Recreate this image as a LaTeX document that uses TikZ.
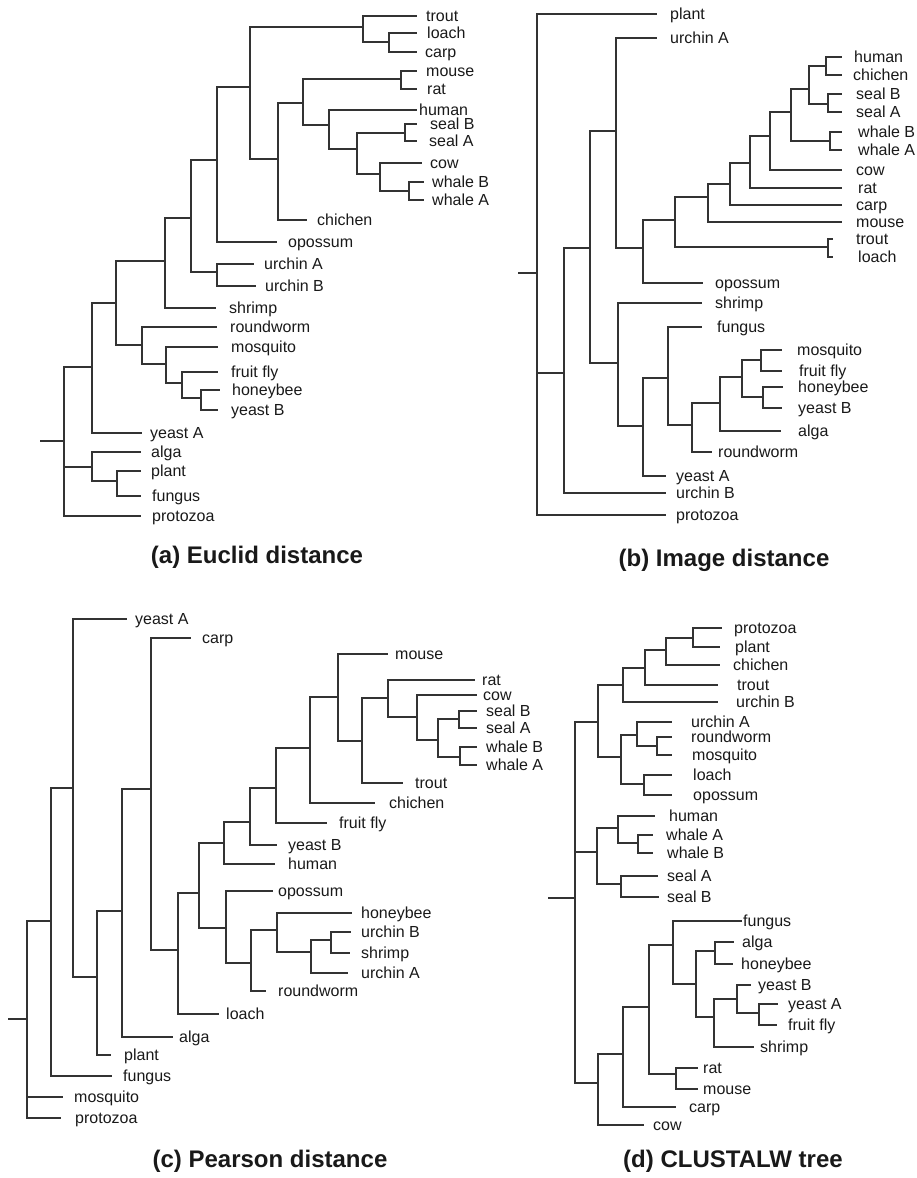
\documentclass[tikz,border=0pt]{standalone}
\usepackage{fontspec}
\setmainfont{Liberation Sans}
\newcommand\mkleaf[5]{\coordinate (#1) at (#2,#3); \node[lbl] (#1L) at (#4,#3) {#5};}
\begin{document}
\begin{tikzpicture}[x=1pt,y=-1pt,
 lbl/.style={anchor=west,inner sep=0pt,text height=11.5pt,text depth=0pt,font=\fontsize{16}{18}\selectfont,text=black!90},
 br/.style={line width=1.2pt,draw=black!80},
 ttl/.style={font=\bfseries\fontsize{24}{28}\selectfont,text=black!90,inner sep=0pt}]
\useasboundingbox (0,0) rectangle (916,1178);
%%%%%%%%%%%%%%%% (a)
\mkleaf{aTrout}{417}{16}{426}{trout}
\mkleaf{aLoach}{417}{33}{427}{loach}
\mkleaf{aCarp}{417}{52}{425}{carp}
\mkleaf{aMouse}{417}{71}{426}{mouse}
\mkleaf{aRat}{417}{89}{427}{rat}
\mkleaf{aHuman}{417}{110}{419}{human}
\mkleaf{aSealB}{417}{124}{430}{seal B}
\mkleaf{aSealA}{417}{141}{429}{seal A}
\mkleaf{aCow}{422}{163}{430}{cow}
\mkleaf{aWhaleB}{424}{182}{432}{whale B}
\mkleaf{aWhaleA}{424}{200}{432}{whale A}
\mkleaf{aChichen}{307}{220}{317}{chichen}
\mkleaf{aOpossum}{277}{242}{288}{opossum}
\mkleaf{aUrchinA}{254}{264}{264}{urchin A}
\mkleaf{aUrchinB}{256}{286}{265}{urchin B}
\mkleaf{aShrimp}{216}{308}{229}{shrimp}
\mkleaf{aRoundworm}{217}{327}{230}{roundworm}
\mkleaf{aMosquito}{218}{347}{231}{mosquito}
\mkleaf{aFruitfly}{218}{372}{231}{fruit fly}
\mkleaf{aHoneybee}{220}{390}{232}{honeybee}
\mkleaf{aYeastB}{218}{410}{231}{yeast B}
\mkleaf{aYeastA}{142}{433}{150}{yeast A}
\mkleaf{aAlga}{141}{452}{151}{alga}
\mkleaf{aPlant}{141}{471}{151}{plant}
\mkleaf{aFungus}{141}{496}{152}{fungus}
\mkleaf{aProtozoa}{141}{516}{152}{protozoa}
\coordinate (a1) at (389,42);
\coordinate (a2) at (363,27);
\coordinate (a3) at (401,79);
\coordinate (a4) at (405,133);
\coordinate (a5) at (409,191);
\coordinate (a6) at (380,174);
\coordinate (a7) at (357,149);
\coordinate (a8) at (329,125);
\coordinate (a9) at (303,103);
\coordinate (a10) at (278,159);
\coordinate (a11) at (250,87);
\coordinate (a12) at (217,160);
\coordinate (a13) at (217,272);
\coordinate (a14) at (191,218);
\coordinate (a15) at (165,261);
\coordinate (a16) at (201,398);
\coordinate (a17) at (182,383);
\coordinate (a18) at (166,364);
\coordinate (a19) at (142,345);
\coordinate (a20) at (116,303);
\coordinate (a21) at (92,367);
\coordinate (a22) at (117,481);
\coordinate (a23) at (92,467);
\coordinate (aRoot) at (64,441);
\coordinate (aStub) at (40,441);
\foreach \p/\c in {a1/aLoach,a1/aCarp,a2/aTrout,a2/a1,a3/aMouse,a3/aRat,a4/aSealB,a4/aSealA,
  a5/aWhaleB,a5/aWhaleA,a6/aCow,a6/a5,a7/a4,a7/a6,a8/aHuman,a8/a7,a9/a3,a9/a8,a10/a9,a10/aChichen,
  a11/a2,a11/a10,a12/a11,a12/aOpossum,a13/aUrchinA,a13/aUrchinB,a14/a12,a14/a13,a15/a14,a15/aShrimp,
  a16/aHoneybee,a16/aYeastB,a17/aFruitfly,a17/a16,a18/aMosquito,a18/a17,a19/aRoundworm,a19/a18,
  a20/a15,a20/a19,a21/a20,a21/aYeastA,a22/aPlant,a22/aFungus,a23/aAlga,a23/a22,
  aRoot/a21,aRoot/a23,aRoot/aProtozoa}
  \draw[br] (\p) |- (\c);
\draw[br] (aStub) -- (aRoot);
\node[ttl] (titleA) at (257,557) {(a) Euclid distance};
%%%%%%%%%%%%%%%% (b)
\mkleaf{bPlant}{657}{14}{670}{plant}
\mkleaf{bUrchinA}{657}{38}{670}{urchin A}
\mkleaf{bHuman}{842}{57}{854}{human}
\mkleaf{bChichen}{842}{75}{853}{chichen}
\mkleaf{bSealB}{842}{94}{856}{seal B}
\mkleaf{bSealA}{842}{112}{856}{seal A}
\mkleaf{bWhaleB}{842}{132}{858}{whale B}
\mkleaf{bWhaleA}{842}{150}{858}{whale A}
\mkleaf{bCow}{842}{170}{856}{cow}
\mkleaf{bRat}{842}{188}{858}{rat}
\mkleaf{bCarp}{842}{205}{856}{carp}
\mkleaf{bMouse}{842}{222}{856}{mouse}
\mkleaf{bTrout}{833}{239}{856}{trout}
\mkleaf{bLoach}{833}{257}{858}{loach}
\mkleaf{bOpossum}{703}{283}{715}{opossum}
\mkleaf{bShrimp}{702}{303}{715}{shrimp}
\mkleaf{bFungus}{702}{327}{717}{fungus}
\mkleaf{bMosquito}{782}{350}{797}{mosquito}
\mkleaf{bFruitfly}{782}{371}{799}{fruit fly}
\mkleaf{bHoneybee}{783}{387}{798}{honeybee}
\mkleaf{bYeastB}{782}{408}{798}{yeast B}
\mkleaf{bAlga}{781}{431}{798}{alga}
\mkleaf{bRoundworm}{712}{452}{718}{roundworm}
\mkleaf{bYeastA}{666}{476}{676}{yeast A}
\mkleaf{bUrchinB}{666}{493}{676}{urchin B}
\mkleaf{bProtozoa}{666}{515}{676}{protozoa}
\coordinate (b1) at (826,66);
\coordinate (b2) at (828,104);
\coordinate (b3) at (809,89);
\coordinate (b4) at (830,141);
\coordinate (b5) at (791,112);
\coordinate (b6) at (770,136);
\coordinate (b7) at (750,163);
\coordinate (b8) at (730,184);
\coordinate (b9) at (708,197);
\coordinate (b10) at (828,247);
\coordinate (b11) at (675,220);
\coordinate (b12) at (643,248);
\coordinate (b13) at (616,131);
\coordinate (b14) at (761,360);
\coordinate (b15) at (763,397);
\coordinate (b16) at (742,377);
\coordinate (b17) at (720,403);
\coordinate (b18) at (692,425);
\coordinate (b19) at (668,378);
\coordinate (b20) at (643,426);
\coordinate (b21) at (618,363);
\coordinate (b22) at (590,248);
\coordinate (b23) at (564,373);
\coordinate (bRoot) at (537,273);
\coordinate (bStub) at (518,273);
\foreach \p/\c in {b1/bHuman,b1/bChichen,b2/bSealB,b2/bSealA,b3/b1,b3/b2,b4/bWhaleB,b4/bWhaleA,
  b5/b3,b5/b4,b6/b5,b6/bCow,b7/b6,b7/bRat,b8/b7,b8/bCarp,b9/b8,b9/bMouse,b10/bTrout,b10/bLoach,
  b11/b9,b11/b10,b12/b11,b12/bOpossum,b13/bUrchinA,b13/b12,b14/bMosquito,b14/bFruitfly,
  b15/bHoneybee,b15/bYeastB,b16/b14,b16/b15,b17/b16,b17/bAlga,b18/b17,b18/bRoundworm,
  b19/bFungus,b19/b18,b20/b19,b20/bYeastA,b21/bShrimp,b21/b20,b22/b13,b22/b21,b23/b22,b23/bUrchinB,
  bRoot/bPlant,bRoot/b23,bRoot/bProtozoa}
  \draw[br] (\p) |- (\c);
\draw[br] (bStub) -- (bRoot);
\node[ttl] (titleB) at (724,560) {(b) Image distance};
%%%%%%%%%%%%%%%% (c)
\mkleaf{cYeastA}{127}{619}{135}{yeast A}
\mkleaf{cCarp}{191}{638}{202}{carp}
\mkleaf{cMouse}{388}{654}{395}{mouse}
\mkleaf{cRat}{475}{680}{482}{rat}
\mkleaf{cCow}{477}{695}{483}{cow}
\mkleaf{cSealB}{477}{711}{486}{seal B}
\mkleaf{cSealA}{477}{728}{486}{seal A}
\mkleaf{cWhaleB}{477}{747}{486}{whale B}
\mkleaf{cWhaleA}{477}{765}{486}{whale A}
\mkleaf{cTrout}{403}{783}{415}{trout}
\mkleaf{cChichen}{375}{803}{389}{chichen}
\mkleaf{cFruitfly}{327}{823}{339}{fruit fly}
\mkleaf{cYeastB}{277}{845}{288}{yeast B}
\mkleaf{cHuman}{275}{864}{288}{human}
\mkleaf{cOpossum}{273}{891}{278}{opossum}
\mkleaf{cHoneybee}{352}{913}{361}{honeybee}
\mkleaf{cUrchinB}{351}{932}{361}{urchin B}
\mkleaf{cShrimp}{350}{953}{361}{shrimp}
\mkleaf{cUrchinA}{348}{973}{361}{urchin A}
\mkleaf{cRoundworm}{266}{991}{278}{roundworm}
\mkleaf{cLoach}{219}{1014}{226}{loach}
\mkleaf{cAlga}{173}{1037}{179}{alga}
\mkleaf{cPlant}{111}{1055}{124}{plant}
\mkleaf{cFungus}{112}{1076}{123}{fungus}
\mkleaf{cMosquito}{63}{1097}{74}{mosquito}
\mkleaf{cProtozoa}{61}{1118}{75}{protozoa}
\coordinate (c1) at (459,719);
\coordinate (c2) at (460,757);
\coordinate (c3) at (438,740);
\coordinate (c4) at (417,717);
\coordinate (c5) at (388,698);
\coordinate (c6) at (362,741);
\coordinate (c7) at (338,697);
\coordinate (c8) at (310,748);
\coordinate (c9) at (276,788);
\coordinate (c10) at (250,822);
\coordinate (c11) at (224,843);
\coordinate (c12) at (331,940);
\coordinate (c13) at (311,952);
\coordinate (c14) at (277,930);
\coordinate (c15) at (251,963);
\coordinate (c16) at (226,928);
\coordinate (c17) at (199,893);
\coordinate (c18) at (178,950);
\coordinate (c19) at (151,789);
\coordinate (c20) at (122,911);
\coordinate (c21) at (97,977);
\coordinate (c22) at (73,788);
\coordinate (c23) at (51,921);
\coordinate (cRoot) at (27,1019);
\coordinate (cStub) at (8,1019);
\foreach \p/\c in {c1/cSealB,c1/cSealA,c2/cWhaleB,c2/cWhaleA,c3/c1,c3/c2,c4/cCow,c4/c3,c5/cRat,c5/c4,
  c6/c5,c6/cTrout,c7/cMouse,c7/c6,c8/c7,c8/cChichen,c9/c8,c9/cFruitfly,c10/c9,c10/cYeastB,
  c11/c10,c11/cHuman,c12/cUrchinB,c12/cShrimp,c13/c12,c13/cUrchinA,c14/cHoneybee,c14/c13,
  c15/c14,c15/cRoundworm,c16/cOpossum,c16/c15,c17/c11,c17/c16,c18/c17,c18/cLoach,
  c19/cCarp,c19/c18,c20/c19,c20/cAlga,c21/c20,c21/cPlant,c22/cYeastA,c22/c21,c23/c22,c23/cFungus,
  cRoot/c23,cRoot/cMosquito,cRoot/cProtozoa}
  \draw[br] (\p) |- (\c);
\draw[br] (cStub) -- (cRoot);
\node[ttl] (titleC) at (270,1161) {(c) Pearson distance};
%%%%%%%%%%%%%%%% (d)
\mkleaf{dProtozoa}{722}{628}{734}{protozoa}
\mkleaf{dPlant}{720}{647}{735}{plant}
\mkleaf{dChichen}{720}{665}{733}{chichen}
\mkleaf{dTrout}{718}{685}{737}{trout}
\mkleaf{dUrchinB}{718}{702}{736}{urchin B}
\mkleaf{dUrchinA}{672}{722}{691}{urchin A}
\mkleaf{dRoundworm}{672}{737}{691}{roundworm}
\mkleaf{dMosquito}{672}{755}{692}{mosquito}
\mkleaf{dLoach}{672}{775}{693}{loach}
\mkleaf{dOpossum}{672}{795}{693}{opossum}
\mkleaf{dHuman}{655}{816}{669}{human}
\mkleaf{dWhaleA}{653}{835}{666}{whale A}
\mkleaf{dWhaleB}{653}{853}{667}{whale B}
\mkleaf{dSealA}{658}{876}{667}{seal A}
\mkleaf{dSealB}{659}{897}{667}{seal B}
\mkleaf{dFungus}{742}{921}{743}{fungus}
\mkleaf{dAlga}{734}{942}{742}{alga}
\mkleaf{dHoneybee}{733}{964}{741}{honeybee}
\mkleaf{dYeastB}{751}{985}{758}{yeast B}
\mkleaf{dYeastA}{778}{1004}{788}{yeast A}
\mkleaf{dFruitfly}{777}{1025}{788}{fruit fly}
\mkleaf{dShrimp}{754}{1047}{760}{shrimp}
\mkleaf{dRat}{698}{1068}{703}{rat}
\mkleaf{dMouse}{698}{1089}{703}{mouse}
\mkleaf{dCarp}{676}{1107}{689}{carp}
\mkleaf{dCow}{644}{1125}{653}{cow}
\coordinate (d1) at (693,638);
\coordinate (d2) at (666,650);
\coordinate (d3) at (645,668);
\coordinate (d4) at (623,685);
\coordinate (d5) at (657,746);
\coordinate (d6) at (637,735);
\coordinate (d7) at (644,784);
\coordinate (d8) at (621,757);
\coordinate (d9) at (598,722);
\coordinate (d10) at (638,843);
\coordinate (d11) at (618,828);
\coordinate (d12) at (621,884);
\coordinate (d13) at (597,852);
\coordinate (d14) at (715,951);
\coordinate (d15) at (759,1013);
\coordinate (d16) at (737,999);
\coordinate (d17) at (714,1017);
\coordinate (d18) at (696,984);
\coordinate (d19) at (673,945);
\coordinate (d20) at (676,1074);
\coordinate (d21) at (649,1007);
\coordinate (d22) at (623,1054);
\coordinate (d23) at (598,1083);
\coordinate (dRoot) at (575,898);
\coordinate (dStub) at (548,898);
\foreach \p/\c in {d1/dProtozoa,d1/dPlant,d2/d1,d2/dChichen,d3/d2,d3/dTrout,d4/d3,d4/dUrchinB,
  d5/dRoundworm,d5/dMosquito,d6/dUrchinA,d6/d5,d7/dLoach,d7/dOpossum,d8/d6,d8/d7,d9/d4,d9/d8,
  d10/dWhaleA,d10/dWhaleB,d11/dHuman,d11/d10,d12/dSealA,d12/dSealB,d13/d11,d13/d12,
  d14/dAlga,d14/dHoneybee,d15/dYeastA,d15/dFruitfly,d16/dYeastB,d16/d15,d17/d16,d17/dShrimp,
  d18/d14,d18/d17,d19/dFungus,d19/d18,d20/dRat,d20/dMouse,d21/d19,d21/d20,d22/d21,d22/dCarp,
  d23/d22,d23/dCow,dRoot/d9,dRoot/d13,dRoot/d23}
  \draw[br] (\p) |- (\c);
\draw[br] (dStub) -- (dRoot);
\node[ttl] (titleD) at (733,1161) {(d) CLUSTALW tree};
\end{tikzpicture}
\end{document}
